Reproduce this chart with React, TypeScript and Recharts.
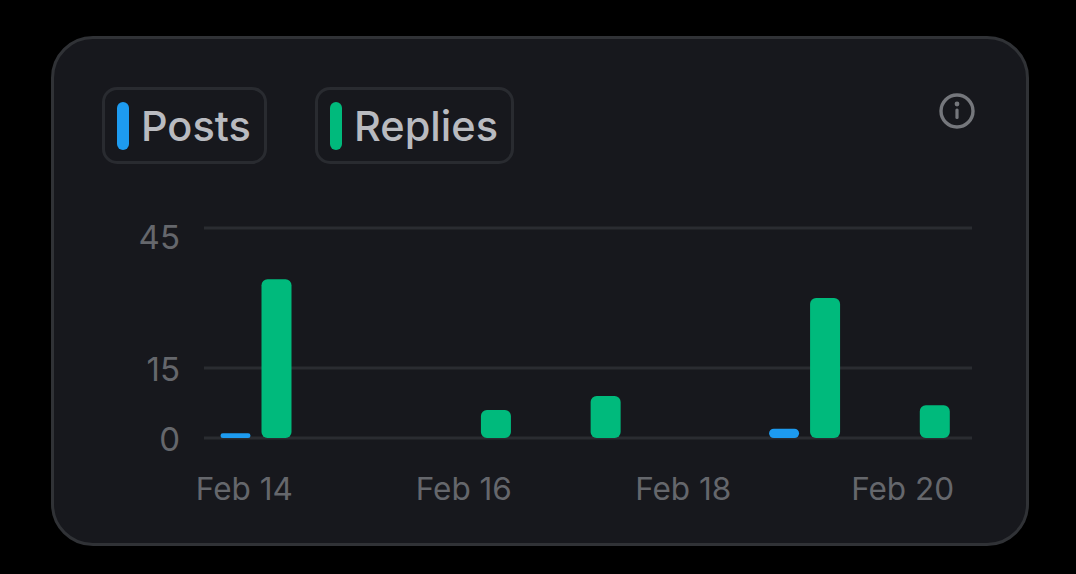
import React from 'react';
import { BarChart, Bar, XAxis, YAxis, CartesianGrid } from 'recharts';

const days = ['Feb 14', 'Feb 15', 'Feb 16', 'Feb 17', 'Feb 18', 'Feb 19', 'Feb 20'];
const posts = [1, 0, 0, 0, 0, 2, 0];
const replies = [34, 0, 6, 9, 0, 30, 7];
const yTicks = [0, 15, 45];

const chartData = days.map((day, i) => ({ day, posts: posts[i], replies: replies[i] }));

const FONT = 'Inter, sans-serif';
const BLUE = '#1d9bf0';
const GREEN = '#00ba7c';

const LegendChip = ({ left, width, color, label }: { left: number; width: number; color: string; label: string }) => (
  <div
    style={{
      position: 'absolute',
      left,
      top: 87,
      width,
      height: 77,
      boxSizing: 'border-box',
      border: '3px solid #292b30',
      borderRadius: 15,
    }}
  >
    <div style={{ position: 'absolute', left: 12, top: 12, width: 12, height: 48, borderRadius: 6, background: color }} />
    <span
      style={{
        position: 'absolute',
        left: 36,
        top: 10,
        lineHeight: '52px',
        fontSize: 41.5,
        fontWeight: 500,
        color: '#b9bbc0',
        fontFamily: FONT,
      }}
    >
      {label}
    </span>
  </div>
);

const InfoIcon = () => (
  <svg width={38} height={38} viewBox="0 0 38 38" style={{ position: 'absolute', left: 938, top: 92 }}>
    <circle cx={19} cy={19} r={16} fill="none" stroke="#75777c" strokeWidth={3.4} />
    <circle cx={19} cy={12} r={2.4} fill="#75777c" />
    <rect x={17.4} y={16.5} width={3.2} height={10.5} rx={1.5} fill="#75777c" />
  </svg>
);

const YTick = ({ x, y, payload }: any) => (
  // the top label sits below its grid line in the reference
  <text
    x={x - 16}
    y={y + (payload.value === 45 ? 21 : 13)}
    textAnchor="end"
    fontSize={33}
    fontFamily={FONT}
    fill="#65676c"
  >
    {payload.value}
  </text>
);

const XTick = ({ x, y, payload }: any) => (
  <text x={x - 12} y={y + 54} textAnchor="middle" fontSize={31.5} fontFamily={FONT} fill="#65676c">
    {payload.value}
  </text>
);

const App = () => {
  return (
    <div style={{ position: 'fixed', left: 0, top: 0, width: 1076, height: 574, background: '#000', overflow: 'hidden' }}>
      <div
        style={{
          position: 'absolute',
          left: 51,
          top: 36,
          width: 978,
          height: 510,
          boxSizing: 'border-box',
          background: '#17181d',
          border: '3px solid #303236',
          borderRadius: 42,
        }}
      />
      <LegendChip left={102} width={165} color={BLUE} label="Posts" />
      <LegendChip left={315} width={199} color={GREEN} label="Replies" />
      <InfoIcon />
      <div style={{ position: 'absolute', left: 0, top: 0 }}>
        <BarChart
          width={1076}
          height={574}
          data={chartData}
          margin={{ top: 228, right: 104, bottom: 0, left: 144 }}
          barSize={30}
          barGap={11}
        >
          <CartesianGrid vertical={false} stroke="#2a2c31" strokeWidth={3} />
          <XAxis
            dataKey="day"
            height={136}
            interval={1}
            axisLine={false}
            tickLine={false}
            tick={<XTick />}
            padding={{ left: -2.5, right: 2.5 }}
          />
          <YAxis width={60} domain={[0, 45]} ticks={yTicks} axisLine={false} tickLine={false} tick={<YTick />} />
          <Bar dataKey="posts" fill={BLUE} radius={6} isAnimationActive={false} />
          <Bar dataKey="replies" fill={GREEN} radius={6} isAnimationActive={false} />
        </BarChart>
      </div>
    </div>
  );
};

export default App;
